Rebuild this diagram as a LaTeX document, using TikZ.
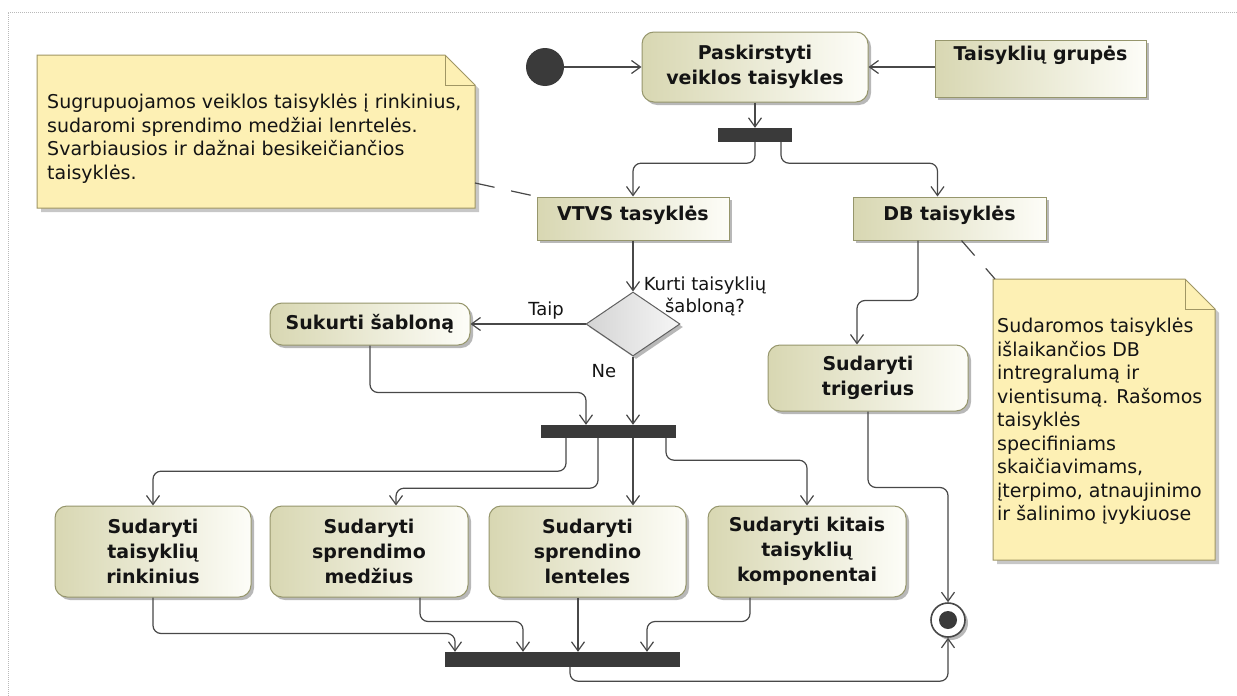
\documentclass[tikz,border=0pt]{standalone}
\usepackage{fontspec}
\setmainfont{DejaVu Sans}
\usetikzlibrary{arrows.meta,shapes.geometric,shadows,backgrounds}

\definecolor{actL}{RGB}{216,215,178}
\definecolor{actR}{RGB}{253,253,248}
\definecolor{actBorder}{RGB}{150,150,108}
\definecolor{noteFill}{RGB}{253,240,180}
\definecolor{noteBorder}{RGB}{160,150,100}
\definecolor{barFill}{RGB}{58,58,58}
\definecolor{flowLine}{RGB}{72,72,72}
\definecolor{diaL}{RGB}{212,212,212}
\definecolor{diaR}{RGB}{246,246,246}
\definecolor{txt}{RGB}{20,20,20}

\newcommand\actfont{\fontsize{19}{25}\selectfont\bfseries}
\newcommand\guardfont{\fontsize{18}{22}\selectfont}
\newcommand\notefont{\fontsize{19}{23.5}\selectfont}

% dog-eared note sheet: corners (x1,y1) and (x2,y2)
\newcommand\notesheet[4]{%
  \fill[black,opacity=0.22] (#1+4,#2+4) -- (#3-26,#2+4) -- (#3+4,#2+34) -- (#3+4,#4+4) -- (#1+4,#4+4) -- cycle;
  \filldraw[fill=noteFill,draw=noteBorder,line width=1pt]
    (#1,#2) -- (#3-30,#2) -- (#3,#2+30) -- (#3,#4) -- (#1,#4) -- cycle;
  \draw[noteBorder,line width=1pt] (#3-30,#2) -- (#3-30,#2+30) -- (#3,#2+30);
}

\tikzset{
  boxshadow/.style={drop shadow={shadow xshift=3pt,shadow yshift=-3pt,opacity=0.28,fill=black}},
  action/.style={rectangle, rounded corners=12pt, draw=actBorder, line width=1pt,
    left color=actL, right color=actR, boxshadow, align=center, font=\actfont,
    text=txt, inner sep=0pt},
  objnode/.style={rectangle, draw=actBorder, line width=1pt, left color=actL,
    right color=actR, boxshadow, font=\actfont, text=txt, inner xsep=0pt},
  bar/.style={rectangle, fill=barFill, draw=none, inner sep=0pt},
  flow/.style={draw=flowLine, line width=1.2pt, rounded corners=8pt,
    -{Straight Barb[length=9pt,width=13pt,line width=1.2pt]}},
  anchorline/.style={draw=flowLine, line width=1.2pt, dash pattern=on 20pt off 17pt},
  guard/.style={font=\guardfont, text=txt, inner sep=0pt, align=center},
  notetext/.style={font=\notefont, text=txt, inner sep=0pt, align=left, anchor=north west},
}

\begin{document}
\begin{tikzpicture}[x=1pt,y=-1pt]
\useasboundingbox (0,0) rectangle (1237,696);
\fill[white] (0,0) rectangle (1237,696);
\draw[gray!55, dash pattern=on 1pt off 1pt, line width=1pt] (1237,12) -- (8,12) -- (8,696);

% ---- notes ----
\notesheet{37}{55}{475}{208}
\node[notetext] (note1) at (47,94) {Sugrupuojamos veiklos taisyklės į rinkinius,\\sudaromi sprendimo medžiai lenrtelės.\\Svarbiausios ir dažnai besikeičiančios\\taisyklės.};
\notesheet{993}{279}{1215}{560}
\node[notetext] (note2) at (997,318) {Sudaromos taisyklės\\išlaikančios DB\\intregralumą ir\\vientisumą. Rašomos\\taisyklės\\specifiniams\\skaičiavimams,\\įterpimo, atnaujinimo\\ir šalinimo įvykiuose};

% ---- nodes ----
\node[circle, fill=barFill, minimum size=38pt, inner sep=0pt] (init) at (545,67) {};
\node[action, minimum width=226pt, minimum height=70pt] (pask) at (755,67) {Paskirstyti\\veiklos taisykles};
\node[objnode, minimum width=211pt, minimum height=57pt, inner ysep=6pt,
      text height=14pt, text depth=31pt] (grp) at (1040.5,68.5) {Taisyklių grupės};
\node[bar, minimum width=74pt, minimum height=14pt] (fork1) at (755,135) {};

\node[objnode, minimum width=192pt, minimum height=43pt, inner ysep=9pt,
      text height=14pt, text depth=11pt] (vtvs) at (633,218.5) {VTVS tasyklės};
\node[objnode, minimum width=193pt, minimum height=43pt, inner ysep=9pt,
      text height=14pt, text depth=11pt] (db) at (949.5,218.5) {DB taisyklės};

\node[diamond, draw=gray!75!black, line width=1pt, left color=diaL, right color=diaR,
      minimum width=94pt, minimum height=64pt, inner sep=0pt, boxshadow] (dia) at (633,324) {};
\node[action, minimum width=200pt, minimum height=42pt] (suk) at (370,324) {Sukurti šabloną};
\node[bar, minimum width=135pt, minimum height=13pt] (fork2) at (608.5,431.5) {};

\node[action, minimum width=196pt, minimum height=91pt] (b1) at (153,551.5) {Sudaryti\\taisyklių\\rinkinius};
\node[action, minimum width=198pt, minimum height=91pt] (b2) at (369,551.5) {Sudaryti\\sprendimo\\medžius};
\node[action, minimum width=197pt, minimum height=91pt] (b3) at (587.5,551.5) {Sudaryti\\sprendino\\lenteles};
\node[action, minimum width=198pt, minimum height=91pt] (b4) at (807,551.5) {Sudaryti kitais\\taisyklių\\komponentai};
\node[bar, minimum width=235pt, minimum height=15pt] (join) at (562.5,659.5) {};

\node[action, minimum width=200pt, minimum height=66pt] (trig) at (868,378) {Sudaryti\\trigerius};
\node[circle, draw=flowLine, line width=1.6pt, fill=white, minimum size=34pt, inner sep=0pt, boxshadow,
      path picture={\fill[barFill] (path picture bounding box.center) circle (9pt);}] (final) at (948,620) {};

% ---- guard labels ----
\node[guard] (q) at (705,296) {Kurti taisyklių\\šabloną?};
\node[guard] (taip) at (546,311) {Taip};
\node[guard] (ne) at (604,371) {Ne};

% ---- control flows ----
\draw[flow] (init) -- (pask);
\draw[flow] (grp.west |- pask.east) -- (pask.east);
\draw[flow] (pask) -- (fork1);
\draw[flow] (fork1.south) -- ++(0,21) -| (vtvs.north);
\draw[flow] ([xshift=26pt]fork1.south) -- ++(0,21) -| ([xshift=-12pt]db.north);
\draw[flow] (vtvs) -- (dia);
\draw[flow] (dia) -- (suk);
\draw[flow] (dia) -- (dia |- fork2.north);
\draw[flow] (suk.south) -- ++(0,47) -| ([xshift=-22.5pt]fork2.north);
\draw[flow] ([xshift=-42.5pt]fork2.south) -- ++(0,33) -| (b1.north);
\draw[flow] ([xshift=-10.5pt]fork2.south) -- ++(0,50) -| ([xshift=27pt]b2.north);
\draw[flow] (fork2.south -| dia.south) -- (b3.north -| dia.south);
\draw[flow] ([xshift=57.5pt]fork2.south) -- ++(0,22) -| (b4.north);
\draw[flow] (b1.south) -- ++(0,36) -| ([xshift=-107.5pt]join.north);
\draw[flow] ([xshift=51pt]b2.south) -- ++(0,24) -| ([xshift=-39.5pt]join.north);
\draw[flow] ([xshift=-9.5pt]b3.south) -- ([xshift=-9.5pt]b3.south |- join.north);
\draw[flow] ([xshift=-57pt]b4.south) -- ++(0,24) -| ([xshift=84.5pt]join.north);
\draw[flow] ([xshift=7.5pt]join.south) -- ++(0,14) -| (final.south);
\draw[flow] ([xshift=-31.5pt]db.south) -- ++(0,60) -| ([xshift=-11pt]trig.north);
\draw[flow] (trig.south) -- ++(0,76) -| (final.north);

% ---- note anchors ----
\coordinate (n1pin) at (475,183);
\coordinate (n2pin) at (995,279);
\draw[anchorline] (n1pin) -- (vtvs.north west);
\draw[anchorline] ([xshift=12pt]db.south) -- (n2pin);
\end{tikzpicture}
\end{document}
